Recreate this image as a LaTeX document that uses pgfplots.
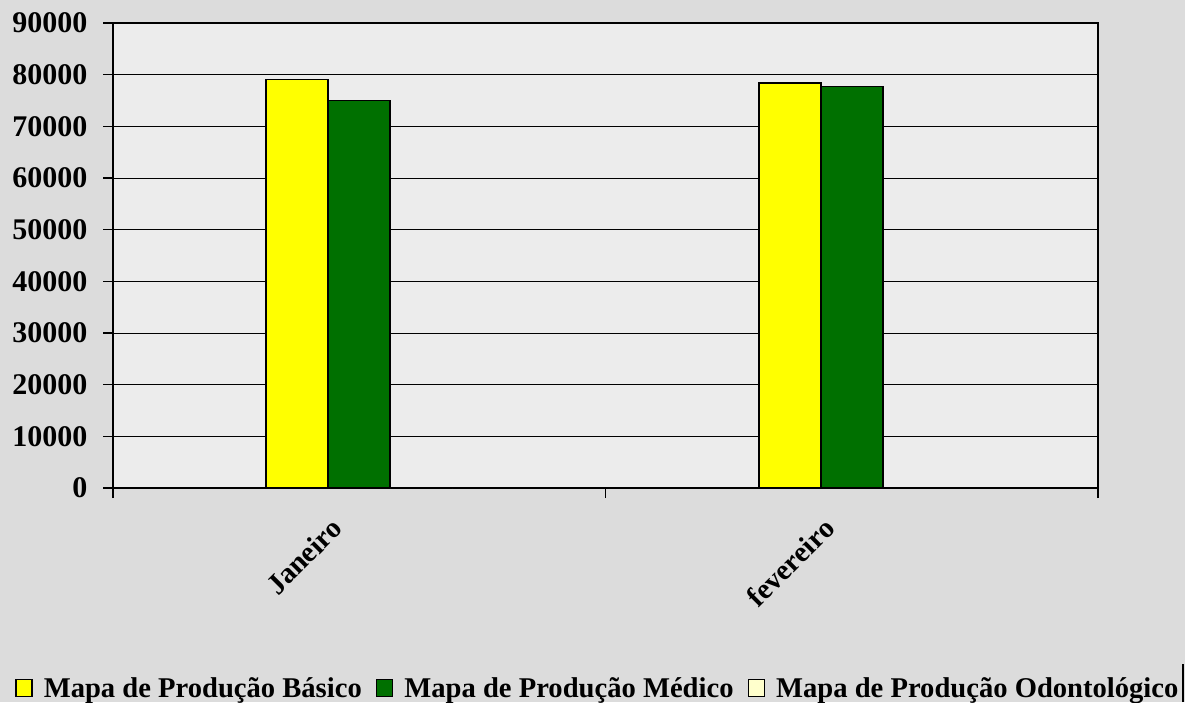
\documentclass[border=0pt]{standalone}
\usepackage{fontspec}
\setmainfont{Liberation Serif}
\usepackage{pgfplots}
\pgfplotsset{compat=1.18}
\definecolor{bgmarble}{HTML}{DCDCDC}
\definecolor{plotbg}{HTML}{ECECEC}
\definecolor{cyellow}{HTML}{FFFF00}
\definecolor{cgreen}{HTML}{007000}
\definecolor{clight}{HTML}{FFFFCC}
\begin{document}
\begin{tikzpicture}[x=1pt,y=1pt]
\useasboundingbox (0,0) rectangle (1185,702);
\fill[bgmarble] (0,0) rectangle (1185,702);
\draw[black,line width=2pt] (1183,0) -- (1183,38);
\begin{axis}[
  at={(113pt,214pt)}, anchor=south west,
  scale only axis, width=985pt, height=465pt,
  ybar=0pt, bar width=62pt,
  xmin=-0.5, xmax=1.5, ymin=0, ymax=90000,
  axis background/.style={fill=plotbg},
  axis line style={black,line width=1.6pt},
  ytick={0,10000,...,90000},
  ymajorgrids, grid style={black,line width=1pt},
  xtick pos=bottom, ytick pos=left,
  xtick={-0.5,0.5,1.5}, xticklabels={},
  extra x ticks={0,1}, extra x tick labels={Janeiro,fevereiro},
  extra x tick style={major tick length=0pt, xmajorgrids=false,
     xticklabel style={xshift=-20pt, yshift=-33pt, rotate=45, anchor=east, font=\fontsize{29}{32}\selectfont\bfseries}},
  tick align=outside, major tick length=10pt,
  tick style={black,line width=1.6pt},
  yticklabel style={font=\fontsize{30}{32}\selectfont\bfseries, xshift=-12pt},
  /pgf/number format/assume math mode=true,
  /pgf/number format/1000 sep={},
  scaled y ticks=false,
  legend columns=3,
  legend style={at={(axis description cs:-0.0995,-0.430)}, anchor=west,
     draw=none, fill=none, font=\fontsize{28.6}{30}\selectfont\bfseries,
     column sep=0pt, inner sep=0pt,
     /tikz/every odd column/.append style={column sep=9pt},
     /tikz/every even column/.append style={column sep=12pt}},
  legend image code/.code={\draw[#1,draw=black,line width=1.6pt] (0pt,-8.5pt) rectangle (16pt,8.5pt);},
]
\addplot[fill=cyellow,draw=black,line width=1.6pt] coordinates {(0,79100) (1,78400)};
\addplot[fill=cgreen,draw=black,line width=1.6pt] coordinates {(0,75000) (1,77700)};
\addplot[fill=clight,draw=black,line width=1.6pt] coordinates {(0,0) (1,0)};
\legend{Mapa de Produção Básico,Mapa de Produção Médico,Mapa de Produção Odontológico}
\end{axis}
\end{tikzpicture}
\end{document}
